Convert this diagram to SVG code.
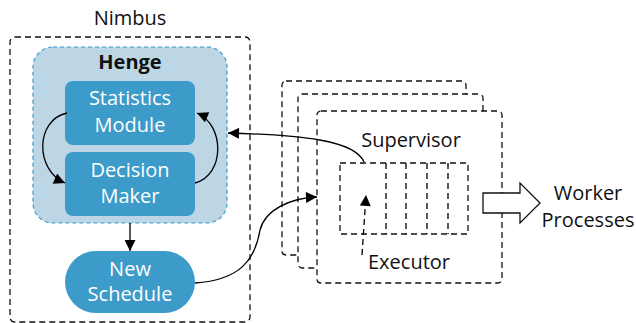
<svg xmlns="http://www.w3.org/2000/svg" width="636" height="323" viewBox="0 0 636 323">
<defs>
<style>
.t{font-family:"Open Sans","Noto Sans",sans-serif;font-size:20px;text-anchor:middle;fill:#111}
.w{fill:#fff}
.box{fill:#3c9bc9}
.dash{fill:#fff;stroke:#111;stroke-width:1.3;stroke-dasharray:6 4}
.ln{fill:none;stroke:#000;stroke-width:1.3}
</style>
<marker id="ah" viewBox="0 0 10 10" refX="10" refY="5" markerWidth="12" markerHeight="11" markerUnits="userSpaceOnUse" orient="auto"><path d="M0,0 L10,5 L0,10 Z" fill="#000"/></marker>
</defs>
<text class="t" x="130" y="25">Nimbus</text>
<g id="nimbus"><rect x="10" y="37" width="240" height="285" rx="5" class="dash" style="fill:none"/></g>
<g id="henge">
<rect x="33" y="47" width="194" height="176" rx="20" fill="#bcd6e6" stroke="#3a9ac9" stroke-width="1.2" stroke-dasharray="4 3"/>
<text class="t" x="130" y="69" style="font-weight:bold">Henge</text>
</g>
<g id="stats"><rect x="65" y="81" width="130" height="64" rx="8" class="box"/>
<text class="t w" x="130" y="105">Statistics</text><text class="t w" x="130" y="132">Module</text></g>
<g id="decision"><rect x="65" y="152" width="130" height="64" rx="8" class="box"/>
<text class="t w" x="130" y="177">Decision</text><text class="t w" x="130" y="203">Maker</text></g>
<g id="schedule"><rect x="65" y="251" width="130" height="62" rx="31" class="box"/>
<text class="t w" x="130" y="276">New</text><text class="t w" x="130" y="301">Schedule</text></g>
<g id="supervisors">
<rect x="282" y="81" width="184" height="174" rx="4" class="dash"/>
<rect x="298" y="94" width="185" height="174" rx="4" class="dash"/>
<rect x="317" y="111" width="185" height="172" rx="4" class="dash"/>
<text class="t" x="411" y="147">Supervisor</text>
</g>
<g id="executor">
<rect x="340" y="163" width="128" height="71" class="dash"/>
<path d="M386,163V234M406,163V234M427,163V234M448,163V234" class="ln" stroke-dasharray="6 4"/>
<text class="t" x="409" y="269">Executor</text>
</g>
<g id="worker">
<path d="M483,193 H520 V183 L540,203 L520,223 V213 H483 Z" fill="#fff" stroke="#111" stroke-width="1.3"/>
<text class="t" x="588" y="200">Worker</text><text class="t" x="588" y="227">Processes</text>
</g>
<g id="connectors">
<path d="M67,113 C35,120 35,170 65,183" class="ln" marker-end="url(#ah)"/>
<path d="M195,183 C225,175 225,125 197,113" class="ln" marker-end="url(#ah)"/>
<path d="M130,223 V251" class="ln" marker-end="url(#ah)"/>
<path d="M364,162 C355,140 300,135 228,133" class="ln" marker-end="url(#ah)"/>
<path d="M195,283 C240,280 255,260 260,230 C265,210 290,198 317,197" class="ln" marker-end="url(#ah)"/>
<path d="M362,255 L366,195" class="ln" stroke-dasharray="6 4" marker-end="url(#ah)"/>
</g>
</svg>
